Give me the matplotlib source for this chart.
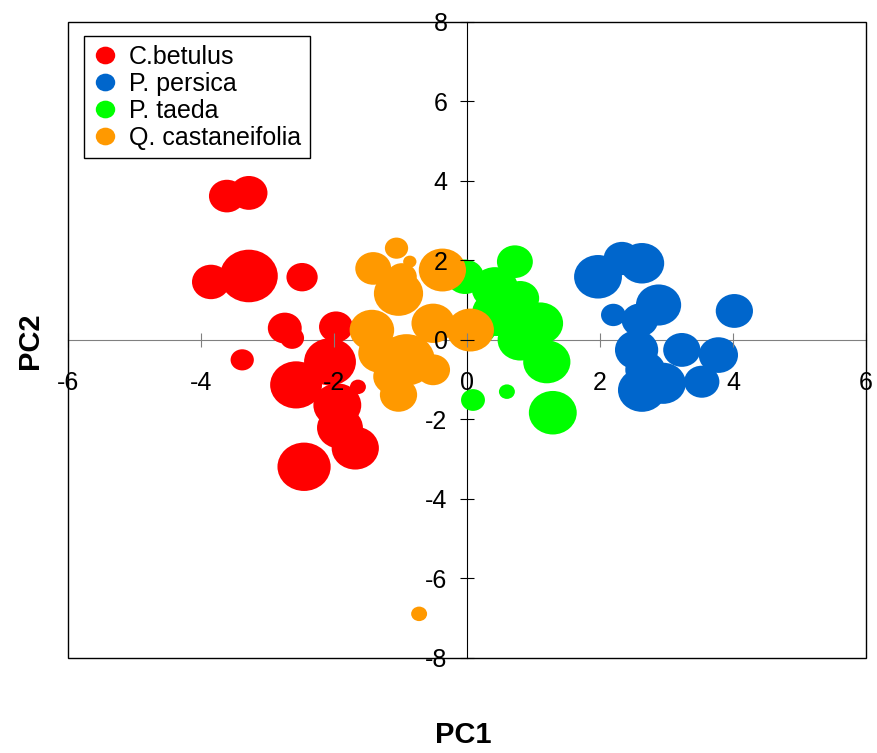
import numpy as np
import matplotlib
matplotlib.use("Agg")
import matplotlib.pyplot as plt
from matplotlib.path import Path
from matplotlib.patches import Rectangle
from matplotlib.lines import Line2D

plt.rcParams['font.family'] = ['Liberation Sans', 'DejaVu Sans']
plt.rcParams['axes.unicode_minus'] = False

# PC1, PC2 and bubble size (diameter in PC1 units)
cb_x = [-3.61, -3.28, -3.85, -3.28, -2.48, -2.74, -2.63, -3.38, -1.97, -2.57,
        -2.06, -1.95, -1.91, -1.68, -2.45, -1.64]
cb_y = [3.62, 3.70, 1.46, 1.61, 1.58, 0.30, 0.05, -0.50, 0.33, -1.13,
        -0.55, -1.64, -2.21, -2.72, -3.19, -1.18]
cb_s = [0.54, 0.56, 0.57, 0.87, 0.47, 0.51, 0.36, 0.35, 0.51, 0.78,
        0.78, 0.72, 0.69, 0.71, 0.80, 0.24]

pp_x = [1.97, 2.33, 2.63, 2.88, 2.20, 2.60, 2.55, 2.63, 2.95, 3.23,
        3.53, 3.78, 4.02, 2.68]
pp_y = [1.59, 2.05, 1.93, 0.88, 0.63, 0.50, -0.25, -1.26, -1.09, -0.25,
        -1.05, -0.38, 0.73, -0.75]
pp_s = [0.72, 0.55, 0.67, 0.68, 0.37, 0.55, 0.65, 0.72, 0.68, 0.56,
        0.53, 0.59, 0.56, 0.60]

pt_x = [-0.03, 0.72, 0.42, 0.80, 0.15, 1.10, 0.80, 0.45, 1.20, 0.09, 0.60, 1.29]
pt_y = [1.59, 1.97, 1.30, 1.05, 0.33, 0.42, 0.00, 0.67, -0.55, -1.51, -1.30, -1.83]
pt_s = [0.57, 0.54, 0.70, 0.57, 0.60, 0.69, 0.68, 0.75, 0.71, 0.36, 0.24, 0.72]

qc_x = [-1.06, -1.41, -0.86, -0.98, -1.03, -0.37, -1.43, -0.51, 0.05, -1.31,
        -0.91, -0.51, -1.03, -1.11, -0.72]
qc_y = [2.31, 1.80, 1.97, 1.59, 1.17, 1.76, 0.25, 0.42, 0.25, -0.33,
        -0.50, -0.75, -1.38, -0.92, -6.89]
qc_s = [0.35, 0.54, 0.20, 0.45, 0.74, 0.71, 0.67, 0.65, 0.71, 0.65,
        0.85, 0.51, 0.56, 0.60, 0.24]

names = ['C.betulus', 'P. persica', 'P. taeda', 'Q. castaneifolia']
colors = ['#FF0000', '#0066CC', '#00FF00', '#FF9900']

# slightly wide ellipse marker like the Excel bubbles
circ = Path.unit_circle()
ell = Path(circ.vertices * np.array([1.1, 1.0]), circ.codes)

fig = plt.figure(figsize=(8.77, 7.53), dpi=100)
ax = fig.add_axes([0.0775, 0.1262, 0.91, 0.8446])
ax.set_xlim(-6, 6)
ax.set_ylim(-8, 8)

unit_pt = 0.91 * 8.77 * 72 / 12.0
series = [(cb_x, cb_y, cb_s), (pp_x, pp_y, pp_s), (pt_x, pt_y, pt_s), (qc_x, qc_y, qc_s)]
for (xs, ys, ss), c in zip(series, colors):
    sz = (np.array(ss) * unit_pt) ** 2
    ax.scatter(xs, ys, s=sz, marker=ell, color=c, edgecolors='none', zorder=2)

ax.spines['left'].set_position(('data', 0))
ax.spines['bottom'].set_position(('data', 0))
ax.spines['left'].set_color('black')
ax.spines['bottom'].set_color('#808080')
ax.spines['top'].set_visible(False)
ax.spines['right'].set_visible(False)
for sp in ax.spines.values():
    sp.set_zorder(1)
ax.add_patch(Rectangle((0, 0), 1, 1, transform=ax.transAxes, fill=False,
                       edgecolor='black', lw=1.0, clip_on=False, zorder=4))

ax.set_xticks(np.arange(-6, 7, 2))
ax.set_yticks(np.arange(-8, 9, 2))
ax.tick_params(axis='x', direction='inout', length=10, color='#808080',
               labelsize=18, pad=17)
ax.tick_params(axis='y', direction='inout', length=10, color='black',
               labelsize=18, pad=9)
ax.xaxis.set_zorder(3)
ax.yaxis.set_zorder(3)

fig.text(0.528, 0.024, 'PC1', fontsize=21, fontweight='bold', ha='center', va='center')
fig.text(0.034, 0.548, 'PC2', fontsize=21, fontweight='bold', ha='center',
         va='center', rotation=90)

handles = [Line2D([], [], linestyle='none', marker=ell, markersize=14,
                  markerfacecolor=c, markeredgecolor='none') for c in colors]
leg = ax.legend(handles, names, loc='upper left', bbox_to_anchor=(0.02, 0.978),
                borderaxespad=0, fontsize=18, frameon=True, fancybox=False,
                framealpha=1, edgecolor='black', labelspacing=0.12,
                handlelength=1.0, handletextpad=0.45, borderpad=0.35)
leg.get_frame().set_linewidth(1.0)
leg.set_zorder(5)

fig.savefig('out.png', dpi=100)
